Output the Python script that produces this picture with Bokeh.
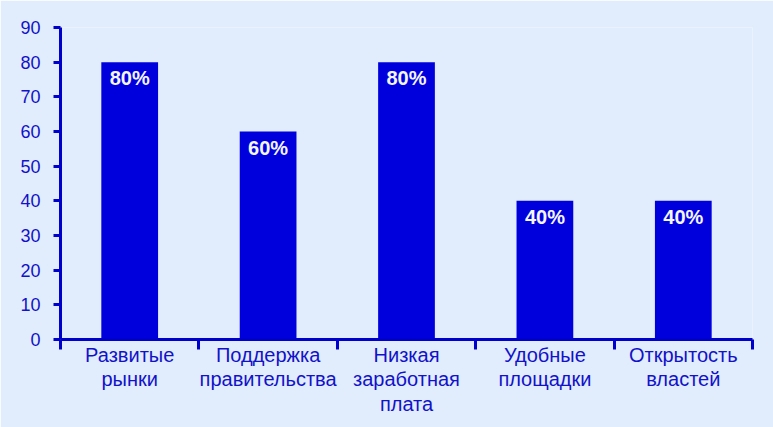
from bokeh.plotting import figure
from bokeh.models import ColumnDataSource, FixedTicker, Range1d
from bokeh.embed import file_html
from bokeh.resources import INLINE
from bokeh.core.properties import value

categories = ["Развитые\nрынки", "Поддержка\nправительства", "Низкая\nзаработная\nплата",
              "Удобные\nплощадки", "Открытость\nвластей"]
values = [80, 60, 80, 40, 40]
bar_labels = ["80%", "60%", "80%", "40%", "40%"]
y_ticks = [0, 10, 20, 30, 40, 50, 60, 70, 80, 90]

BG = "#E1EDFD"
BLUE = "#0000CC"
BAR = "#0000DD"
TXT = "#1212CA"
FONT = "Liberation Sans"

n = len(categories)
centers = [i + 0.5 for i in range(n)]
source = ColumnDataSource(dict(x=centers, top=values, label=bar_labels))

p = figure(width=773, height=427, output_backend="svg", toolbar_location=None,
           x_range=Range1d(0, n), y_range=Range1d(0, 90),
           min_border_left=60, min_border_right=21, min_border_top=27, min_border_bottom=88)
p.background_fill_color = BG
p.border_fill_color = BG
p.outline_line_color = None
p.grid.visible = False

p.vbar(x="x", top="top", width=0.41, source=source, fill_color=BAR, line_color=None)
p.text(x="x", y="top", text="label", source=source, text_color="#F4F6FF",
       text_align="center", text_baseline="top", y_offset=5,
       text_font=value(FONT), text_font_size="20px", text_font_style="bold")

# x axis
xa = p.xaxis[0]
xa.ticker = FixedTicker(ticks=centers, minor_ticks=list(range(n + 1)))
xa.major_label_overrides = {c: lab for c, lab in zip(centers, categories)}
xa.major_tick_out = 0
xa.major_tick_in = 0
xa.minor_tick_out = 10
xa.minor_tick_in = 0
xa.minor_tick_line_width = 3
xa.minor_tick_line_color = BLUE
xa.axis_line_width = 3
xa.axis_line_color = BLUE
xa.major_label_text_color = TXT
xa.major_label_text_font = FONT
xa.major_label_text_font_size = "20px"
xa.major_label_standoff = -6
xa.major_label_text_line_height = 1.12

# y axis
ya = p.yaxis[0]
ya.ticker = FixedTicker(ticks=y_ticks)
ya.minor_tick_line_color = None
ya.major_tick_out = 7
ya.major_tick_in = 0
ya.major_tick_line_width = 3
ya.major_tick_line_color = BLUE
ya.axis_line_width = 3
ya.axis_line_color = BLUE
ya.major_label_text_color = TXT
ya.major_label_text_font = FONT
ya.major_label_text_font_size = "18px"
ya.major_label_standoff = 13

open("out.html", "w").write(file_html(p, INLINE))
